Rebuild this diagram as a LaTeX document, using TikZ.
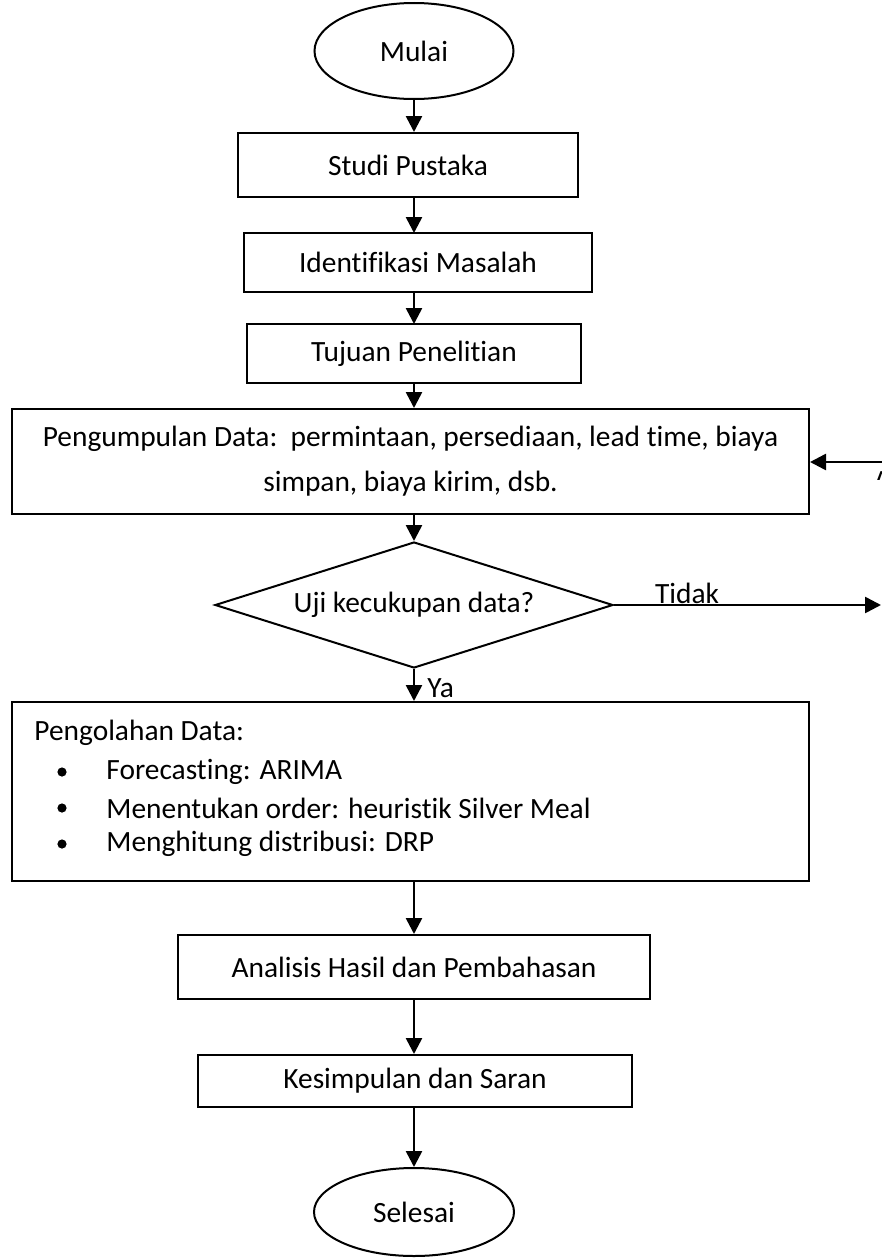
\documentclass[tikz,border=0pt]{standalone}
\usepackage{fontspec}
\setmainfont{Carlito}[Ligatures=NoCommon]
\usetikzlibrary{shapes.geometric,arrows.meta}
\begin{document}
\begin{tikzpicture}[x=0.5pt,y=-0.5pt,
  box/.style={draw,line width=1pt,inner sep=0pt,rectangle,align=center},
  oval/.style={draw,line width=1pt,ellipse,inner sep=0pt},
  arr/.style={line width=1.3pt,-{Triangle[length=8pt,width=8pt]}},
  dot/.style={circle,fill,inner sep=0pt,minimum size=4.6pt},
  lbl/.style={inner sep=0pt},
  font=\fontsize{14.7}{22.5}\selectfont]
\useasboundingbox (0,0) rectangle (882,1258);

\node[oval,minimum width=99.5pt,minimum height=48pt] (mulai) at (414,51) {Mulai};
\node[box,minimum width=170pt,minimum height=32pt] (studi) at (408,165) {Studi Pustaka};
\node[box,minimum width=174pt,minimum height=29.5pt] (ident) at (418,262.5) {Identifikasi Masalah};
\node[box,minimum width=167pt,minimum height=29.5pt] (tujuan) at (414,353.5) {Tujuan Penelitian};
\node[box,minimum width=398.5pt,minimum height=52.5pt] (kumpul) at (410.5,461.5)
  {Pengumpulan Data:\ \ permintaan, persediaan, lead time, biaya\\simpan, biaya kirim, dsb.};
\node[draw,line width=1pt,diamond,inner sep=0pt,minimum width=199pt,minimum height=63pt,shape aspect=3.16] (uji) at (414,605) {Uji kecukupan data?};
\node[box,minimum width=398.5pt,minimum height=89.5pt] (olah) at (410.5,791.5) {};
\node[box,minimum width=236pt,minimum height=32pt] (analisis) at (414,967) {Analisis Hasil dan Pembahasan};
\node[box,minimum width=217pt,minimum height=26pt] (simpul) at (415,1081) {Kesimpulan dan Saran};
\node[oval,minimum width=100pt,minimum height=44pt] (selesai) at (414,1212) {Selesai};

% texts inside Pengolahan Data
\node[lbl,anchor=west] (t0) at (34,733) {Pengolahan Data:};
\node[dot] (b1) at (62,772) {};
\node[lbl,anchor=west] (t1) at (106,772) {Forecasting: ARIMA};
\node[dot] (b2) at (62,808) {};
\node[lbl,anchor=west] (t2) at (106,808) {Menentukan order: heuristik Silver Meal};
\node[dot] (b3) at (62,844) {};
\node[lbl,anchor=west] (t3) at (106,844) {Menghitung distribusi: DRP};

% connector ends
\coordinate (tidakend) at (881,605);
\coordinate (kembali) at (884,462);

% arrows
\draw[arr] (mulai.south) -- (mulai.south |- studi.north);
\draw[arr] (414,197) -- (414,233);
\draw[arr] (414,292) -- (414,324);
\draw[arr] (tujuan.south) -- (tujuan.south |- kumpul.north);
\draw[arr] (kumpul.south -| uji.north) -- (uji.north);
\draw[arr] (uji.east) -- (tidakend);
\draw[arr] (kembali) -- (kembali -| kumpul.east);
\draw[arr] (uji.south) -- (uji.south |- olah.north);
\draw[arr] (olah.south -| analisis.north) -- (analisis.north);
\draw[arr] (analisis.south) -- (analisis.south |- simpul.north);
\draw[arr] (simpul.south -| selesai.north) -- (selesai.north);

% labels
\node[lbl,anchor=base] (tidak) at (687,603) {Tidak};
\node[lbl,anchor=base west] (ya) at (427,697) {Ya};
\begin{scope}
  \clip (868,468) rectangle (882,479);
  \node[lbl,anchor=north west] (a) at (873,471) {A};
\end{scope}
\end{tikzpicture}
\end{document}
